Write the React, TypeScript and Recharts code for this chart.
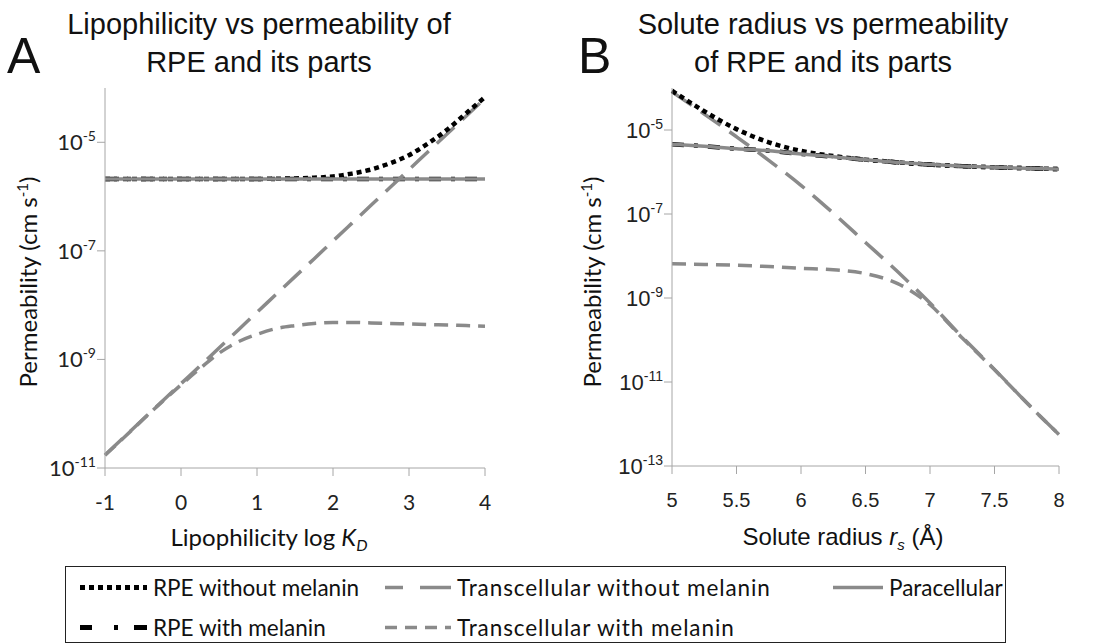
import React from "react";
import { LineChart, Line, XAxis, YAxis } from "recharts";

// Panel A: lipophilicity (log KD) vs permeability (cm/s)
const LIPO_X = [-1, -0.75, -0.5, -0.25, 0, 0.25, 0.5, 0.75, 1, 1.25, 1.5, 1.75, 2, 2.25, 2.5, 2.75, 3, 3.25, 3.5, 3.75, 4];
const LIPO_RPE_NO_MEL = [2.1e-6, 2.1e-6, 2.1e-6, 2.1e-6, 2.1e-6, 2.1e-6, 2.1e-6, 2.1e-6, 2.11e-6, 2.13e-6, 2.16e-6, 2.22e-6, 2.35e-6, 2.65e-6, 3.15e-6, 4.1e-6, 5.8e-6, 9.5e-6, 1.7e-5, 3.4e-5, 6.8e-5];
const LIPO_RPE_MEL = [2.1e-6, 2.1e-6, 2.1e-6, 2.1e-6, 2.1e-6, 2.1e-6, 2.1e-6, 2.1e-6, 2.1e-6, 2.1e-6, 2.1e-6, 2.1e-6, 2.1e-6, 2.1e-6, 2.1e-6, 2.1e-6, 2.1e-6, 2.1e-6, 2.1e-6, 2.1e-6, 2.1e-6];
const LIPO_TRANS_NO_MEL = [1.74e-11, 3.7e-11, 7.9e-11, 1.68e-10, 3.58e-10, 7.6e-10, 1.63e-9, 3.46e-9, 7.4e-9, 1.57e-8, 3.35e-8, 7.1e-8, 1.52e-7, 3.24e-7, 6.9e-7, 1.47e-6, 3.13e-6, 6.7e-6, 1.42e-5, 3.03e-5, 6.45e-5];
const LIPO_TRANS_MEL = [1.72e-11, 3.65e-11, 7.8e-11, 1.65e-10, 3.4e-10, 6.8e-10, 1.3e-9, 2.1e-9, 2.9e-9, 3.7e-9, 4.2e-9, 4.6e-9, 4.8e-9, 4.8e-9, 4.7e-9, 4.6e-9, 4.5e-9, 4.4e-9, 4.3e-9, 4.2e-9, 4.1e-9];
const LIPO_PARA = [2.1e-6, 2.1e-6, 2.1e-6, 2.1e-6, 2.1e-6, 2.1e-6, 2.1e-6, 2.1e-6, 2.1e-6, 2.1e-6, 2.1e-6, 2.1e-6, 2.1e-6, 2.1e-6, 2.1e-6, 2.1e-6, 2.1e-6, 2.1e-6, 2.1e-6, 2.1e-6, 2.1e-6];
const LIPO_X_TICKS = [-1, 0, 1, 2, 3, 4];
const LIPO_Y_TICKS = [1e-11, 1e-9, 1e-7, 1e-5];

// Panel B: solute radius (Å) vs permeability (cm/s)
const RADIUS_X = [5, 5.25, 5.5, 5.75, 6, 6.25, 6.5, 6.75, 7, 7.25, 7.5, 7.75, 8];
const RADIUS_RPE_NO_MEL = [8.6e-5, 2.8e-5, 1.05e-5, 5.1e-6, 3.18e-6, 2.4e-6, 1.97e-6, 1.7e-6, 1.5e-6, 1.38e-6, 1.29e-6, 1.23e-6, 1.17e-6];
const RADIUS_RPE_MEL = [4.6e-6, 4.1e-6, 3.6e-6, 3.2e-6, 2.7e-6, 2.3e-6, 1.95e-6, 1.7e-6, 1.5e-6, 1.38e-6, 1.29e-6, 1.23e-6, 1.17e-6];
const RADIUS_TRANS_NO_MEL = [8.1e-5, 2.4e-5, 6.9e-6, 1.9e-6, 4.8e-7, 1.05e-7, 2.1e-8, 4.2e-9, 7.6e-10, 1.17e-10, 2.0e-11, 3.2e-12, 5.6e-13];
const RADIUS_TRANS_MEL = [6.5e-9, 6.3e-9, 6.0e-9, 5.6e-9, 5.1e-9, 4.7e-9, 3.8e-9, 2.2e-9, 6.9e-10, 1.12e-10, 1.95e-11, 3.2e-12, 5.6e-13];
const RADIUS_PARA = [4.6e-6, 4.1e-6, 3.6e-6, 3.2e-6, 2.7e-6, 2.3e-6, 1.95e-6, 1.7e-6, 1.5e-6, 1.38e-6, 1.29e-6, 1.23e-6, 1.17e-6];
const RADIUS_X_TICKS = [5, 5.5, 6, 6.5, 7, 7.5, 8];
const RADIUS_Y_TICKS = [1e-13, 1e-11, 1e-9, 1e-7, 1e-5];

const GRAY = "#8a8a8a";
const AXIS = "#a6a6a6";
const CALIBRI = "Lato, 'Open Sans', sans-serif";
const ARIAL = "'Liberation Sans', Arial, sans-serif";

const lipoData = LIPO_X.map((x, i) => ({
  x,
  rpeNoMel: LIPO_RPE_NO_MEL[i],
  rpeMel: LIPO_RPE_MEL[i],
  transNoMel: LIPO_TRANS_NO_MEL[i],
  transMel: LIPO_TRANS_MEL[i],
  para: LIPO_PARA[i],
}));

const radiusData = RADIUS_X.map((x, i) => ({
  x,
  rpeNoMel: RADIUS_RPE_NO_MEL[i],
  rpeMel: RADIUS_RPE_MEL[i],
  transNoMel: RADIUS_TRANS_NO_MEL[i],
  transMel: RADIUS_TRANS_MEL[i],
  para: RADIUS_PARA[i],
}));

const PowerTick = (props: any) => {
  const { x, y, payload, font } = props;
  const exp = Math.round(Math.log10(payload.value));
  return (
    <text x={x} y={y + 8} textAnchor="end" fontFamily={font} fontSize={22} fill="#222">
      <tspan>10</tspan>
      <tspan dy={-9} fontSize={14}>{exp}</tspan>
    </text>
  );
};

const series = [
  { key: "rpeMel", stroke: "#000", width: 4.5, dash: "12 10 4 10" },
  { key: "transMel", stroke: GRAY, width: 3.5, dash: "14 8" },
  { key: "transNoMel", stroke: GRAY, width: 3.5, dash: "24 11" },
  { key: "rpeNoMel", stroke: "#000", width: 4.5, dash: "5 4" },
  { key: "para", stroke: GRAY, width: 3.5, dash: undefined },
];

const Panel = (p: any) => (
  <LineChart
    width={p.width}
    height={560}
    data={p.data}
    margin={{ top: 88, right: p.right, bottom: p.bottom, left: 0 }}
  >
    <XAxis
      dataKey="x"
      type="number"
      domain={p.xDomain}
      ticks={p.xTicks}
      interval={0}
      height={40}
      stroke={AXIS}
      tickSize={8}
      tickMargin={19}
      tick={{ fill: "#222", fontSize: p.xTickSize, fontFamily: p.tickFont }}
    />
    <YAxis
      type="number"
      scale="log"
      domain={p.yDomain}
      ticks={p.yTicks}
      allowDataOverflow
      interval={0}
      width={p.yWidth}
      stroke={AXIS}
      tickSize={8}
      tickMargin={1}
      tick={<PowerTick font={p.tickFont} />}
    />
    {series.map((s) => (
      <Line
        key={s.key}
        dataKey={s.key}
        type="monotone"
        stroke={s.stroke}
        strokeWidth={s.width}
        strokeDasharray={s.dash}
        dot={false}
        isAnimationActive={false}
      />
    ))}
  </LineChart>
);

const abs = (style: React.CSSProperties): React.CSSProperties => ({
  position: "absolute",
  whiteSpace: "nowrap",
  color: "#111",
  ...style,
});

const LegendSample = ({ dash, stroke, width, len }: any) => (
  <svg width={len} height={10} style={{ display: "block" }}>
    <line x1={0} y1={5} x2={len} y2={5} stroke={stroke} strokeWidth={width} strokeDasharray={dash} />
  </svg>
);

const legendItems = [
  { label: "RPE without melanin", x: 80, y: 587, len: 67, stroke: "#000", width: 5, dash: "5 4", spacing: 0 },
  { label: "Transcellular without melanin", x: 385, y: 587, len: 66, stroke: GRAY, width: 3.5, dash: "18 17 40", spacing: 0.9 },
  { label: "Paracellular", x: 833, y: 587, len: 50, stroke: GRAY, width: 3.5, dash: undefined, spacing: 0 },
  { label: "RPE with melanin", x: 80, y: 627, len: 67, stroke: "#000", width: 5, dash: "12 22 4 16 13", spacing: 0 },
  { label: "Transcellular with melanin", x: 385, y: 627, len: 66, stroke: GRAY, width: 3.5, dash: "12 8", spacing: 0.9 },
];

export default function App() {
  return (
    <div style={{ position: "absolute", left: 0, top: 0, width: 1104, height: 644, background: "#fff", overflow: "hidden" }}>
      <div style={abs({ left: 0, top: 0 })}>
        <Panel width={540} data={lipoData} right={55} bottom={52} yWidth={105} xTickSize={21}
          xDomain={[-1, 4]} xTicks={LIPO_X_TICKS} yDomain={[1e-11, 1e-4]} yTicks={LIPO_Y_TICKS} tickFont={CALIBRI} />
      </div>
      <div style={abs({ left: 550, top: 0 })}>
        <Panel width={554} data={radiusData} right={45} bottom={54} yWidth={122} xTickSize={20}
          xDomain={[5, 8]} xTicks={RADIUS_X_TICKS} yDomain={[1e-13, 1e-4]} yTicks={RADIUS_Y_TICKS} tickFont={ARIAL} />
      </div>

      {/* panel letters and titles */}
      <div style={abs({ left: 7, top: 28, fontFamily: ARIAL, fontSize: 50, lineHeight: "56px" })}>A</div>
      <div style={abs({ left: 578, top: 28, fontFamily: ARIAL, fontSize: 50, lineHeight: "56px" })}>B</div>
      <div style={abs({ left: 259, top: 5, transform: "translateX(-50%)", fontFamily: ARIAL, fontSize: 29, lineHeight: "38px", textAlign: "center" })}>
        Lipophilicity vs permeability of<br />RPE and its parts
      </div>
      <div style={abs({ left: 823, top: 5, transform: "translateX(-50%)", fontFamily: ARIAL, fontSize: 29, lineHeight: "38px", textAlign: "center" })}>
        Solute radius vs permeability<br />of RPE and its parts
      </div>

      {/* y axis titles */}
      {[27, 591].map((cx) => (
        <div key={cx} style={abs({ left: cx, top: 282, transform: "translate(-50%, -50%) rotate(-90deg)", fontFamily: CALIBRI, fontSize: 24 })}>
          Permeability (cm s<span style={{ fontSize: 15, verticalAlign: "super" }}>-1</span>)
        </div>
      ))}

      {/* x axis titles */}
      <div style={abs({ left: 269, top: 538, transform: "translate(-50%, -50%)", fontFamily: CALIBRI, fontSize: 24 })}>
        Lipophilicity log <i>K</i><sub style={{ fontSize: 16, fontStyle: "italic" }}>D</sub>
      </div>
      <div style={abs({ left: 843, top: 538, transform: "translate(-50%, -50%)", fontFamily: ARIAL, fontSize: 24 })}>
        Solute radius <i>r</i><sub style={{ fontSize: 15, fontStyle: "italic" }}>s</sub> (Å)
      </div>

      {/* legend */}
      <div style={abs({ left: 65, top: 566, width: 941, height: 77, border: "1px solid #222", boxSizing: "border-box" })} />
      {legendItems.map((it) => (
        <div key={it.label} style={abs({ left: it.x, top: it.y, transform: "translateY(-50%)", display: "flex", alignItems: "center", fontFamily: CALIBRI, fontSize: 22.5 })}>
          <LegendSample {...it} />
          <span style={{ marginLeft: 6, letterSpacing: it.spacing }}>{it.label}</span>
        </div>
      ))}
    </div>
  );
}
